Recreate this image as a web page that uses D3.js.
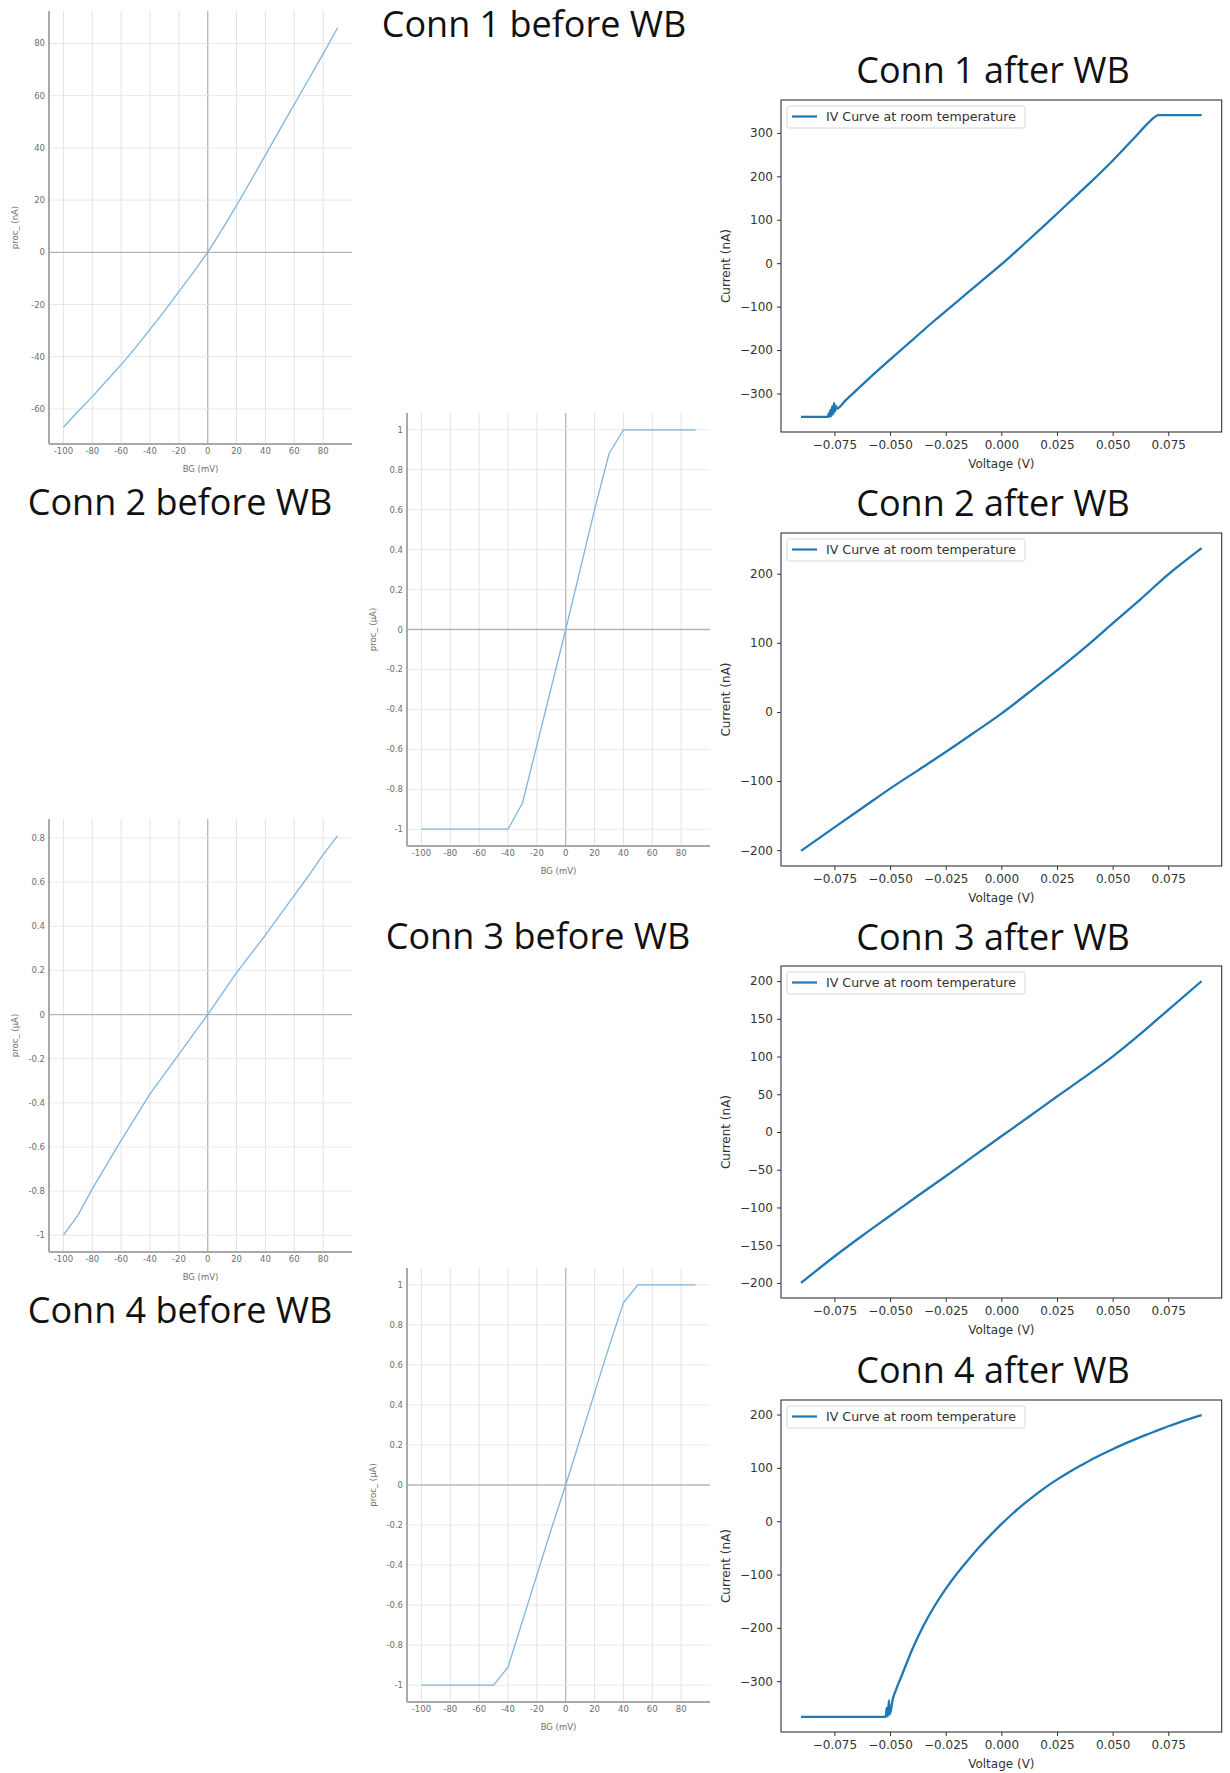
<!DOCTYPE html>
<html>
<head>
<meta charset="utf-8">
<script src="https://cdn.jsdelivr.net/npm/d3@7"></script>
<style>
  body { margin: 0; background: #fff; }
  svg { display: block; }
</style>
</head>
<body>
<div id="chart"></div>
<script>
// ---- "before WB" sweeps (BG in mV, current in nA or µA) ----
const beforeBG = [-100, -90, -80, -70, -60, -50, -40, -30, -20, -10, 0, 10, 20, 30, 40, 50, 60, 70, 80, 90];
const conn1Before = [-67, -61, -55.3, -49.2, -43, -36.5, -29.5, -22.5, -15.1, -7.7, 0, 8.8, 18, 27.5, 37.2, 47, 56.7, 66.3, 76, 86];
const conn2Before = [-1, -1, -1, -1, -1, -1, -1, -0.87, -0.58, -0.29, 0, 0.3, 0.6, 0.88, 1, 1, 1, 1, 1, 1];
const conn3Before = [-1, -0.91, -0.79, -0.68, -0.57, -0.465, -0.36, -0.27, -0.18, -0.09, 0, 0.095, 0.19, 0.275, 0.36, 0.45, 0.54, 0.63, 0.725, 0.81];
const conn4Before = [-1, -1, -1, -1, -1, -1, -0.91, -0.68, -0.45, -0.22, 0, 0.23, 0.46, 0.69, 0.91, 1, 1, 1, 1, 1];

const beforeXTicks = [-100, -80, -60, -40, -20, 0, 20, 40, 60, 80];
const conn1BeforeYTicks = [-60, -40, -20, 0, 20, 40, 60, 80];
const unitYTicks = [-1, -0.8, -0.6, -0.4, -0.2, 0, 0.2, 0.4, 0.6, 0.8, 1];
const conn3BeforeYTicks = [-1, -0.8, -0.6, -0.4, -0.2, 0, 0.2, 0.4, 0.6, 0.8];

// ---- "after WB" IV curves (V, nA) ----
const conn1AfterV = [-0.09, -0.0778, -0.0776, -0.0772, -0.0768, -0.0764, -0.076, -0.0756, -0.0752, -0.0748, -0.0744, -0.074, -0.07, -0.06, -0.05, -0.04, -0.03, -0.02, -0.01, 0, 0.01, 0.02, 0.03, 0.04, 0.05, 0.06, 0.066, 0.068, 0.07, 0.0705, 0.09];
const conn1AfterI = [-354, -354, -346, -354, -338, -352, -330, -348, -322, -342, -328, -335, -316, -268, -222, -177, -132, -89, -46, -3, 43, 90, 138, 186, 236, 290, 323, 333, 340, 341, 341];

const conn2AfterV = [-0.09, -0.075, -0.0625, -0.05, -0.0375, -0.025, -0.0125, 0, 0.0125, 0.025, 0.0375, 0.05, 0.0625, 0.075, 0.09];
const conn2AfterI = [-201, -167, -139, -111, -84.5, -58, -30.5, -2.4, 28.5, 60, 93, 128, 163, 199, 237];

const conn3AfterV = [-0.09, -0.075, -0.0625, -0.05, -0.0375, -0.025, -0.0125, 0, 0.0125, 0.025, 0.0375, 0.05, 0.0625, 0.075, 0.09];
const conn3AfterI = [-200, -165, -137.5, -111, -84.5, -58.6, -32, -5.7, 20.5, 47, 73, 100, 130, 162, 200];

const conn4AfterV = [-0.09, -0.052, -0.0515, -0.051, -0.0505, -0.0502, -0.0497, -0.049, -0.0475, -0.045, -0.04, -0.035, -0.03, -0.025, -0.02, -0.015, -0.01, -0.005, 0, 0.005, 0.01, 0.015, 0.02, 0.025, 0.03, 0.035, 0.04, 0.045, 0.05, 0.055, 0.06, 0.065, 0.07, 0.075, 0.08, 0.085, 0.09];
const conn4AfterI = [-367, -367, -350, -366, -336, -362, -356, -338, -318, -292, -240, -196, -159, -127, -98.5, -73, -49, -26.6, -5.6, 14, 32, 48.5, 64, 78, 91, 103, 114.5, 125, 135, 144.5, 153.5, 162, 170, 178, 185.5, 192.5, 199];

const afterXTicks = [-0.075, -0.05, -0.025, 0, 0.025, 0.05, 0.075];
const conn1AfterYTicks = [-300, -200, -100, 0, 100, 200, 300];
const conn2AfterYTicks = [-200, -100, 0, 100, 200];
const conn3AfterYTicks = [-200, -150, -100, -50, 0, 50, 100, 150, 200];
const conn4AfterYTicks = [-300, -200, -100, 0, 100, 200];

const W = 1230, H = 1773;

const svg = d3.select('#chart')
  .append('svg')
  .attr('width', W)
  .attr('height', H);

svg.append('rect').attr('width', W).attr('height', H).attr('fill', '#fff');

// Panel headings
const headings = [
  { text: 'Conn 1 before WB', x: 534, y: 37 },
  { text: 'Conn 2 before WB', x: 180, y: 515 },
  { text: 'Conn 3 before WB', x: 538, y: 949 },
  { text: 'Conn 4 before WB', x: 180, y: 1323 },
  { text: 'Conn 1 after WB', x: 993, y: 83 },
  { text: 'Conn 2 after WB', x: 993, y: 516 },
  { text: 'Conn 3 after WB', x: 993, y: 950 },
  { text: 'Conn 4 after WB', x: 993, y: 1383 }
];

headings.forEach(h => {
  svg.append('text')
    .attr('x', h.x)
    .attr('y', h.y)
    .attr('text-anchor', 'middle')
    .style('font-family', '"Open Sans", "Noto Sans", sans-serif')
    .style('font-size', '36px')
    .style('fill', '#111')
    .text(h.text);
});

// ---- web-style "before" chart ----
function drawBefore(opt) {
  const { left, right, top, bottom, ys, yTicks, unit } = opt;
  const x = d3.scaleLinear().domain([-110, 100]).range([left, right]);
  const ext = d3.extent(ys);
  const pad = (ext[1] - ext[0]) * 0.042;
  const y = d3.scaleLinear().domain([ext[0] - pad, ext[1] + pad]).range([bottom, top]);

  const g = svg.append('g').style('font-family', '"DejaVu Sans", Verdana, sans-serif');

  // vertical grid
  g.selectAll('.vgrid')
    .data(beforeXTicks)
    .enter()
    .append('line')
    .attr('x1', d => x(d)).attr('x2', d => x(d))
    .attr('y1', top).attr('y2', bottom)
    .style('stroke', d => d === 0 ? '#b4b4b4' : '#e3e3e3')
    .style('stroke-width', d => d === 0 ? 1.3 : 1);

  // horizontal grid
  g.selectAll('.hgrid')
    .data(yTicks)
    .enter()
    .append('line')
    .attr('x1', left).attr('x2', right)
    .attr('y1', d => y(d)).attr('y2', d => y(d))
    .style('stroke', d => d === 0 ? '#b4b4b4' : '#e8e8e8')
    .style('stroke-width', d => d === 0 ? 1.3 : 1);

  // axis lines
  g.append('line')
    .attr('x1', left).attr('x2', left).attr('y1', top).attr('y2', bottom)
    .style('stroke', '#a9a9a9').style('stroke-width', 2);
  g.append('line')
    .attr('x1', left).attr('x2', right).attr('y1', bottom).attr('y2', bottom)
    .style('stroke', '#a9a9a9').style('stroke-width', 2);

  // tick labels
  g.selectAll('.xl')
    .data(beforeXTicks)
    .enter()
    .append('text')
    .attr('x', d => x(d))
    .attr('y', bottom + 10)
    .attr('text-anchor', 'middle')
    .style('font-size', '8.5px')
    .style('fill', '#6e6e6e')
    .text(d => String(d));

  g.selectAll('.yl')
    .data(yTicks)
    .enter()
    .append('text')
    .attr('x', left - 4)
    .attr('y', d => y(d) + 3)
    .attr('text-anchor', 'end')
    .style('font-size', '8.5px')
    .style('fill', '#6e6e6e')
    .text(d => String(d));

  g.append('text')
    .attr('x', (x(-110) + x(100)) / 2)
    .attr('y', bottom + 28)
    .attr('text-anchor', 'middle')
    .style('font-size', '8.5px')
    .style('fill', '#6e6e6e')
    .text('BG (mV)');

  g.append('text')
    .attr('transform', `translate(${left - 31},${(top + bottom) / 2}) rotate(-90)`)
    .attr('text-anchor', 'middle')
    .style('font-size', '8.5px')
    .style('fill', '#6e6e6e')
    .text(`proc_ (${unit})`);

  const line = d3.line()
    .x((d, i) => x(beforeBG[i]))
    .y(d => y(d));

  g.append('path')
    .datum(ys)
    .attr('d', line)
    .style('fill', 'none')
    .style('stroke', '#7fb4de')
    .style('stroke-width', 1.3);
}

// ---- matplotlib-style "after" chart ----
function drawAfter(opt) {
  const { top, bottom, vs, is, yTicks } = opt;
  const left = 781, right = 1221.7;
  const xe = d3.extent(vs), ye = d3.extent(is);
  const xp = (xe[1] - xe[0]) * 0.05, yp = (ye[1] - ye[0]) * 0.05;
  const x = d3.scaleLinear().domain([xe[0] - xp, xe[1] + xp]).range([left, right]);
  const y = d3.scaleLinear().domain([ye[0] - yp, ye[1] + yp]).range([bottom, top]);

  const g = svg.append('g').style('font-family', '"DejaVu Sans", sans-serif');

  const line = d3.line()
    .x((d, i) => x(vs[i]))
    .y(d => y(d))
    .curve(d3.curveMonotoneX);

  g.append('path')
    .datum(is)
    .attr('d', line)
    .style('fill', 'none')
    .style('stroke', '#1f77b4')
    .style('stroke-width', 2.3)
    .style('stroke-linejoin', 'round');

  const xAxis = g.append('g')
    .attr('transform', `translate(0,${bottom})`)
    .call(d3.axisBottom(x).tickValues(afterXTicks).tickSize(4).tickPadding(4).tickFormat(d3.format('.3f')));
  const yAxis = g.append('g')
    .attr('transform', `translate(${left},0)`)
    .call(d3.axisLeft(y).tickValues(yTicks).tickSize(4).tickPadding(4).tickFormat(d3.format('d')));

  [xAxis, yAxis].forEach(a => {
    a.select('.domain').remove();
    a.selectAll('line').style('stroke', '#333').style('stroke-width', 1);
    a.selectAll('text').style('font-size', '12px').style('fill', '#333').style('font-family', '"DejaVu Sans", sans-serif');
  });

  g.append('rect')
    .attr('x', left).attr('y', top)
    .attr('width', right - left).attr('height', bottom - top)
    .style('fill', 'none')
    .style('stroke', '#333')
    .style('stroke-width', 1.1);

  g.append('text')
    .attr('x', (left + right) / 2)
    .attr('y', bottom + 36)
    .attr('text-anchor', 'middle')
    .style('font-size', '12px')
    .style('fill', '#333')
    .text('Voltage (V)');

  g.append('text')
    .attr('transform', `translate(730,${(top + bottom) / 2}) rotate(-90)`)
    .attr('text-anchor', 'middle')
    .style('font-size', '12px')
    .style('fill', '#333')
    .text('Current (nA)');

  // legend
  const lg = g.append('g').attr('transform', `translate(${left + 6},${top + 6})`);
  lg.append('rect')
    .attr('width', 238).attr('height', 22)
    .attr('rx', 2.5)
    .style('fill', '#fff').style('fill-opacity', 0.8)
    .style('stroke', '#d8d8d8').style('stroke-width', 1);
  lg.append('line')
    .attr('x1', 5).attr('x2', 30).attr('y1', 10.5).attr('y2', 10.5)
    .style('stroke', '#1f77b4').style('stroke-width', 2.2);
  lg.append('text')
    .attr('x', 39).attr('y', 15)
    .style('font-size', '12.6px')
    .style('fill', '#333')
    .text('IV Curve at room temperature');
}

drawBefore({ left: 49, right: 352, top: 11, bottom: 444, ys: conn1Before, yTicks: conn1BeforeYTicks, unit: 'nA' });
drawBefore({ left: 407, right: 710, top: 413, bottom: 846, ys: conn2Before, yTicks: unitYTicks, unit: 'µA' });
drawBefore({ left: 49, right: 352, top: 819, bottom: 1252, ys: conn3Before, yTicks: conn3BeforeYTicks, unit: 'µA' });
drawBefore({ left: 407, right: 710, top: 1268, bottom: 1702, ys: conn4Before, yTicks: unitYTicks, unit: 'µA' });

drawAfter({ top: 100, bottom: 432, vs: conn1AfterV, is: conn1AfterI, yTicks: conn1AfterYTicks });
drawAfter({ top: 533, bottom: 866, vs: conn2AfterV, is: conn2AfterI, yTicks: conn2AfterYTicks });
drawAfter({ top: 966, bottom: 1298, vs: conn3AfterV, is: conn3AfterI, yTicks: conn3AfterYTicks });
drawAfter({ top: 1400, bottom: 1732, vs: conn4AfterV, is: conn4AfterI, yTicks: conn4AfterYTicks });
</script>
</body>
</html>
